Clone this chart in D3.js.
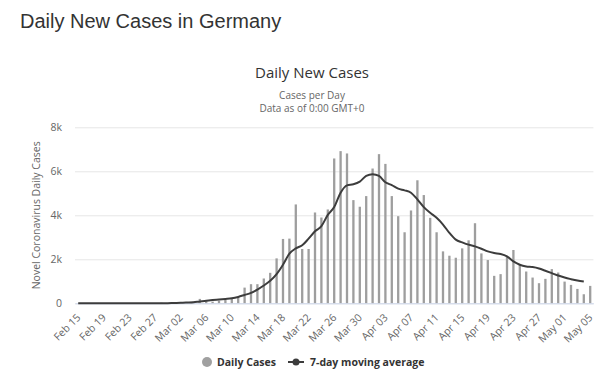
<!DOCTYPE html>
<html>
<head>
<meta charset="utf-8">
<script src="https://cdn.jsdelivr.net/npm/d3@7"></script>
<style>
  body { margin: 0; background: #fff; }
  svg { display: block; }
  .chart-text { font-family: "Open Sans", "Lucida Sans Unicode", sans-serif; }
</style>
</head>
<body>
<div id="chart"></div>
<script>
// categories: every day from Feb 15 to May 05 (2020)
const days = d3.utcDay.range(new Date(Date.UTC(2020, 1, 15)), new Date(Date.UTC(2020, 4, 6)));
const dayLabels = days.map(d => d3.utcFormat('%b %d')(d));

// daily new cases
const dailyCases = [
    0, 0, 0, 0, 0, 0, 0, 0, 0, 0,
    2, 4, 5, 27, 13, 51, 29, 37, 66, 200,
    100, 75, 120, 150, 197, 270, 713, 869, 869, 1128,
    1385, 2042, 2925, 2940, 4494, 2468, 2468, 4128, 3900, 4265,
    6583, 6917, 6811, 4690, 4389, 4873, 6126, 6780, 6337, 4873,
    3960, 3229, 4219, 5592, 4920, 3886, 3229, 2360, 2163, 2071,
    2497, 2863, 3640, 2268, 1966, 1248, 1326, 2103, 2423, 1751,
    1445, 1170, 914, 1111, 1554, 1399, 987, 837, 654, 411,
    791
];

// 7-day moving average line (ends on May 04)
const movingAvg = [
    0, 0, 0, 0, 0, 0, 0, 0, 0, 0,
    1, 1, 2, 4, 7, 15, 22, 35, 50, 85,
    115, 145, 170, 197, 228, 290, 380, 472, 625, 808,
    1021, 1326, 1752, 2255, 2499, 2636, 2940, 3275, 3503, 4021,
    4372, 5027, 5362, 5408, 5530, 5789, 5865, 5789, 5500, 5370,
    5210, 5134, 5027, 4722, 4372, 4113, 3886, 3580, 3199, 2893,
    2771, 2665, 2588, 2482, 2359, 2286, 2240, 2131, 1902, 1752,
    1673, 1646, 1582, 1477, 1371, 1262, 1170, 1097, 1033, 987
];

const yTicks = [0, 2000, 4000, 6000, 8000];
const yTickLabels = ['0', '2k', '4k', '6k', '8k'];

const W = 600, H = 377;
const plot = { left: 75, right: 593.4, top: 127.3, bottom: 303.3 };

const svg = d3.select('#chart').append('svg')
    .attr('width', W)
    .attr('height', H);

// page heading
svg.append('text')
    .attr('x', 20).attr('y', 28)
    .style('font-family', '"Liberation Sans", Arial, sans-serif')
    .style('font-size', '20px')
    .style('fill', '#333')
    .text('Daily New Cases in Germany');

const cx = 312;
svg.append('text').attr('class', 'chart-text')
    .attr('x', cx).attr('y', 78)
    .attr('text-anchor', 'middle')
    .style('font-size', '15px').style('fill', '#333')
    .text('Daily New Cases');
svg.append('text').attr('class', 'chart-text')
    .attr('x', cx).attr('y', 99)
    .attr('text-anchor', 'middle')
    .style('font-size', '10px').style('fill', '#666')
    .text('Cases per Day');
svg.append('text').attr('class', 'chart-text')
    .attr('x', cx).attr('y', 112)
    .attr('text-anchor', 'middle')
    .style('font-size', '10px').style('fill', '#666')
    .text('Data as of 0:00 GMT+0');

const x = d3.scaleBand()
    .domain(dayLabels)
    .range([plot.left, plot.right])
    .paddingInner(0.64)
    .paddingOuter(0.32);

const y = d3.scaleLinear()
    .domain([0, 8000])
    .range([plot.bottom, plot.top]);

// grid
const gridG = svg.append('g')
    .attr('transform', `translate(${plot.left},0)`)
    .call(d3.axisLeft(y).tickValues(yTicks).tickSize(-(plot.right - plot.left)).tickFormat(''));
gridG.select('.domain').remove();
gridG.selectAll('line').style('stroke', '#e6e6e6');

// y labels
const yAxisG = svg.append('g')
    .attr('transform', `translate(${plot.left - 10},0)`)
    .call(d3.axisLeft(y).tickValues(yTicks).tickSize(0).tickFormat((d, i) => yTickLabels[i]));
yAxisG.select('.domain').remove();
yAxisG.selectAll('text')
    .attr('class', 'chart-text')
    .style('font-size', '10.5px')
    .style('fill', '#666');

svg.append('text').attr('class', 'chart-text')
    .attr('transform', `translate(40,${(plot.top + plot.bottom) / 2}) rotate(-90)`)
    .attr('text-anchor', 'middle')
    .style('font-size', '10.5px').style('fill', '#666')
    .text('Novel Coronavirus Daily Cases');

// bars
svg.append('g').selectAll('rect')
    .data(dailyCases)
    .join('rect')
    .attr('x', (d, i) => x(dayLabels[i]))
    .attr('width', x.bandwidth())
    .attr('y', d => y(d))
    .attr('height', d => plot.bottom - y(d))
    .style('fill', '#9e9e9e');

// x axis line + labels
const xAxisG = svg.append('g')
    .attr('transform', `translate(0,${plot.bottom})`)
    .call(d3.axisBottom(x)
        .tickValues(dayLabels.filter((d, i) => i % 4 === 0))
        .tickSize(0)
        .tickPadding(0));
xAxisG.select('.domain').style('stroke', '#ccd6eb');
xAxisG.selectAll('text')
    .attr('class', 'chart-text')
    .attr('text-anchor', 'end')
    .attr('dy', 0)
    .attr('transform', 'translate(3,15) rotate(-45)')
    .style('font-size', '10.5px')
    .style('fill', '#666');

// moving average
const line = d3.line()
    .x((d, i) => x(dayLabels[i]) + x.bandwidth() / 2)
    .y(d => y(d))
    .curve(d3.curveMonotoneX);

svg.append('path')
    .datum(movingAvg)
    .attr('d', line)
    .style('fill', 'none')
    .style('stroke', '#3c3c3c')
    .style('stroke-width', 2);

// legend
const lg = svg.append('g').attr('transform', 'translate(0,362)');
lg.append('circle').attr('cx', 207).attr('cy', 0).attr('r', 5).style('fill', '#a0a0a0');
lg.append('text').attr('class', 'chart-text')
    .attr('x', 217).attr('y', 4)
    .style('font-size', '10.5px').style('font-weight', 'bold').style('fill', '#333')
    .text('Daily Cases');
lg.append('line').attr('x1', 288).attr('x2', 304).attr('y1', 0).attr('y2', 0)
    .style('stroke', '#3c3c3c').style('stroke-width', 2);
lg.append('circle').attr('cx', 296).attr('cy', 0).attr('r', 3.5).style('fill', '#3c3c3c');
lg.append('text').attr('class', 'chart-text')
    .attr('x', 310).attr('y', 4)
    .style('font-size', '10.5px').style('font-weight', 'bold').style('fill', '#333')
    .text('7-day moving average');
</script>
</body>
</html>
